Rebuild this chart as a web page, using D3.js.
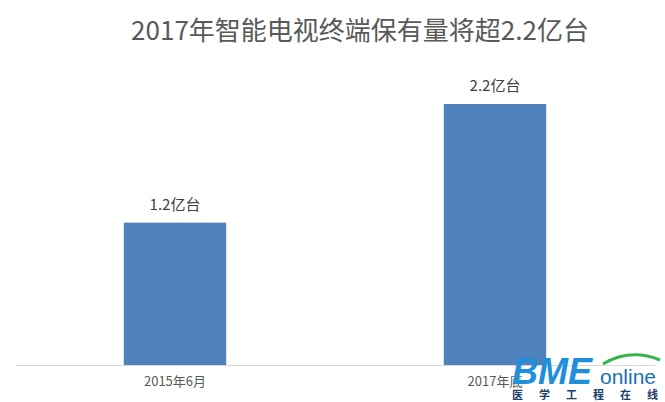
<!DOCTYPE html>
<html><head><meta charset="utf-8">
<script src="https://cdn.jsdelivr.net/npm/d3@7"></script>
<style>body{margin:0;background:#fff;font-family:"Noto Sans CJK SC","Microsoft YaHei",sans-serif;}</style>
</head><body>
<script>
const categories = ["2015年6月", "2017年底"];
const values = [1.2, 2.2];
const labels = ["1.2亿台", "2.2亿台"];
const title = "2017年智能电视终端保有量将超2.2亿台";

const width = 665, height = 402;
const svg = d3.select("body").append("svg").attr("width", width).attr("height", height);

svg.append("text").attr("x", 360).attr("y", 40).attr("text-anchor", "middle")
  .attr("font-size", 26).attr("fill", "#595959").text(title);

const x = d3.scaleBand().domain(categories).range([15, 655]).paddingInner(0.68).paddingOuter(0.34);
const y = d3.scaleLinear().domain([0, 2.2]).range([365, 104]);

svg.selectAll("rect.bar").data(values).enter().append("rect").attr("class", "bar")
  .attr("x", (d, i) => x(categories[i]))
  .attr("y", d => y(d))
  .attr("width", x.bandwidth())
  .attr("height", d => y(0) - y(d))
  .attr("fill", "#4f81bd");

svg.selectAll(".lbl").data(values).enter().append("text")
  .attr("x", (d, i) => x(categories[i]) + x.bandwidth() / 2)
  .attr("y", d => y(d) - 13)
  .attr("text-anchor", "middle").attr("font-size", 15).attr("fill", "#404040")
  .text((d, i) => labels[i]);

const xAxis = d3.axisBottom(x).tickSize(0).tickPadding(12);
const g = svg.append("g").attr("transform", "translate(0,365)").call(xAxis);
g.select(".domain").attr("stroke", "#d9d9d9");
g.selectAll("text").attr("font-size", 13).attr("fill", "#595959").attr("font-family", "Noto Sans CJK SC");

// watermark
const wm = svg.append("g");
wm.append("text").attr("x", 512).attr("y", 384).attr("font-size", 36).attr("font-weight", "bold")
  .attr("font-style", "italic").attr("fill", "#1e8fd8").attr("font-family", "Liberation Sans").text("BME");
wm.append("text").attr("x", 600).attr("y", 384).attr("font-size", 21).attr("fill", "#1a6fb5")
  .attr("font-family", "Liberation Sans Narrow, Liberation Sans").text("online");
wm.append("path").attr("d", "M603,364 Q630,348 660,360").attr("stroke", "#3bb34a").attr("stroke-width", 3).attr("fill", "none");
wm.append("text").attr("x", 512).attr("y", 399).attr("font-size", 11).attr("font-weight", "bold")
  .attr("fill", "#1a3e6e").attr("letter-spacing", 16).text("医学工程在线");
</script>
</body></html>
